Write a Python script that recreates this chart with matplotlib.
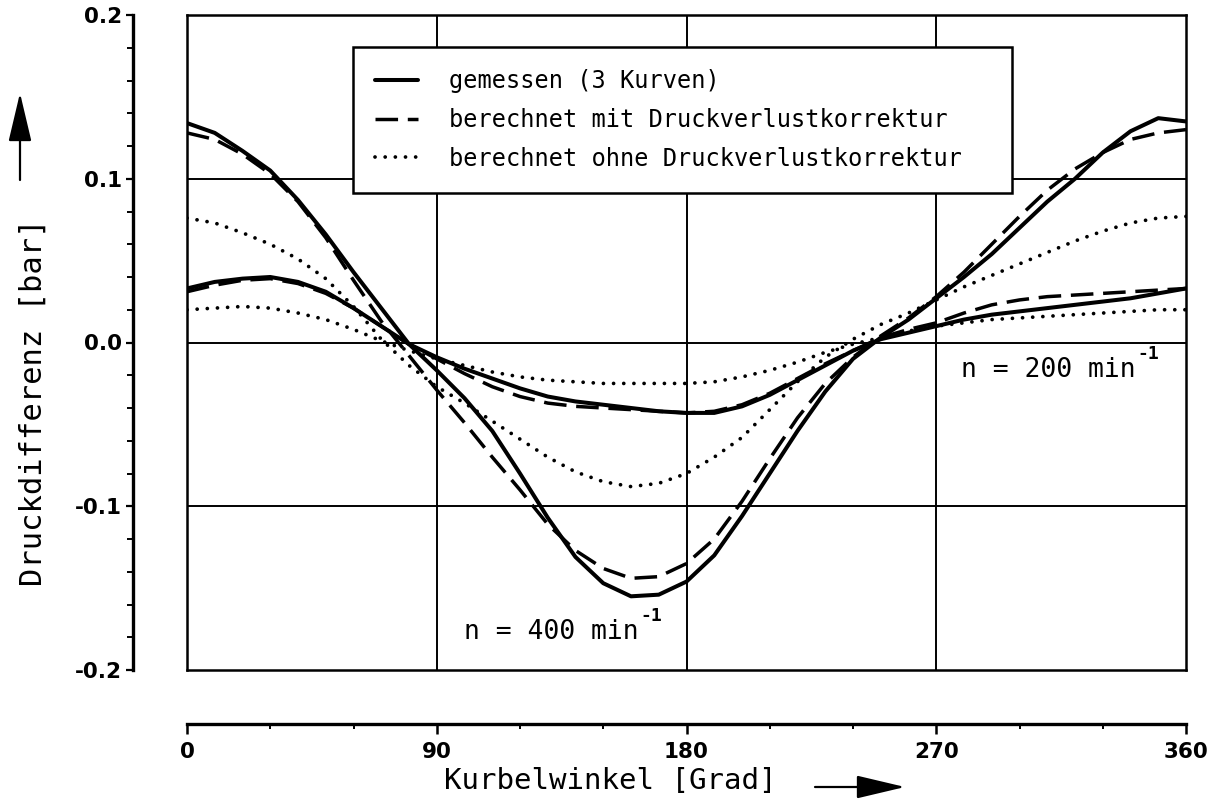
import matplotlib
matplotlib.use('Agg')
import matplotlib.pyplot as plt
from matplotlib.lines import Line2D
from matplotlib.patches import FancyArrowPatch
from matplotlib.ticker import MultipleLocator

# Kurbelwinkel in Grad
winkel = list(range(0, 361, 10))

# n = 400 1/min
p400_gemessen = [0.134, 0.128, 0.117, 0.105, 0.087, 0.066, 0.043, 0.021, -0.001, -0.017,
                 -0.034, -0.054, -0.080, -0.107, -0.131, -0.147, -0.155, -0.154, -0.146, -0.130,
                 -0.106, -0.080, -0.054, -0.030, -0.010, 0.003, 0.014, 0.027, 0.040, 0.054,
                 0.070, 0.086, 0.100, 0.116, 0.129, 0.137, 0.135]
p400_mit = [0.128, 0.124, 0.115, 0.103, 0.086, 0.064, 0.038, 0.013, -0.008, -0.029,
            -0.049, -0.070, -0.090, -0.111, -0.127, -0.138, -0.144, -0.143, -0.135, -0.120,
            -0.097, -0.071, -0.046, -0.025, -0.009, 0.004, 0.015, 0.028, 0.043, 0.060,
            0.077, 0.093, 0.106, 0.116, 0.124, 0.128, 0.130]
p400_ohne = [0.076, 0.073, 0.067, 0.060, 0.051, 0.039, 0.022, 0.002, -0.014, -0.027,
             -0.037, -0.048, -0.059, -0.070, -0.079, -0.085, -0.088, -0.086, -0.080, -0.070,
             -0.058, -0.041, -0.024, -0.009, 0.002, 0.011, 0.018, 0.026, 0.034, 0.041,
             0.048, 0.055, 0.062, 0.068, 0.073, 0.076, 0.077]

# n = 200 1/min
p200_gemessen = [0.033, 0.037, 0.039, 0.040, 0.037, 0.031, 0.021, 0.010, -0.001, -0.009,
                 -0.016, -0.022, -0.028, -0.033, -0.036, -0.038, -0.040, -0.042, -0.043, -0.043,
                 -0.039, -0.032, -0.023, -0.014, -0.005, 0.002, 0.006, 0.010, 0.014, 0.017,
                 0.019, 0.021, 0.023, 0.025, 0.027, 0.030, 0.033]
p200_mit = [0.031, 0.035, 0.038, 0.039, 0.036, 0.030, 0.021, 0.010, -0.001, -0.010,
            -0.019, -0.027, -0.033, -0.037, -0.039, -0.040, -0.041, -0.042, -0.043, -0.042,
            -0.038, -0.031, -0.022, -0.013, -0.005, 0.003, 0.008, 0.012, 0.018, 0.023,
            0.026, 0.028, 0.029, 0.030, 0.031, 0.032, 0.033]
p200_ohne = [0.020, 0.021, 0.022, 0.021, 0.018, 0.014, 0.008, 0.001, -0.005, -0.010,
             -0.014, -0.018, -0.021, -0.023, -0.024, -0.025, -0.025, -0.025, -0.025, -0.024,
             -0.021, -0.017, -0.012, -0.006, -0.001, 0.003, 0.007, 0.010, 0.012, 0.014,
             0.015, 0.016, 0.017, 0.018, 0.019, 0.020, 0.020]

legend_labels = ['gemessen (3 Kurven)',
                 'berechnet mit Druckverlustkorrektur',
                 'berechnet ohne Druckverlustkorrektur']

W, H = 1221, 807
mono = 'DejaVu Sans Mono'
tickfont = {'family': 'DejaVu Sans', 'weight': 'bold', 'size': 15.5}

solid = dict(color='black', lw=2.9, ls='-', solid_capstyle='round', solid_joinstyle='round')
dashed = dict(color='black', lw=2.5, ls=(0, (6.5, 2.8)), dash_capstyle='butt')
dotted = dict(color='black', lw=2.7, ls=(0, (0.01, 2.7)), dash_capstyle='round')

fig = plt.figure(figsize=(W / 100, H / 100), dpi=100)

x0, x1 = 187 / W, 1186 / W
y0, y1 = 1 - 670 / H, 1 - 15 / H

# plot area with the frame and grid
ax = fig.add_axes([x0, y0, x1 - x0, y1 - y0])
ax.set_xlim(0, 360)
ax.set_ylim(-0.2, 0.2)
ax.set_xticks([])
ax.set_yticks([])
for s in ax.spines.values():
    s.set_linewidth(1.8)
for g in (90, 180, 270):
    ax.axvline(g, color='black', lw=1.4, zorder=1)
for g in (-0.1, 0.0, 0.1):
    ax.axhline(g, color='black', lw=1.4, zorder=1)

ax.plot(winkel, p400_gemessen, **solid, zorder=3)
ax.plot(winkel, p400_mit, **dashed, zorder=3)
ax.plot(winkel, p400_ohne, **dotted, zorder=3)
ax.plot(winkel, p200_gemessen, **solid, zorder=3)
ax.plot(winkel, p200_mit, **dashed, zorder=3)
ax.plot(winkel, p200_ohne, **dotted, zorder=3)

handles = [Line2D([], [], **solid), Line2D([], [], **dashed), Line2D([], [], **dotted)]
leg = ax.legend(handles, legend_labels, loc='upper left',
                bbox_to_anchor=(353 / W, 1 - 47 / H, (1012 - 353) / W, 0),
                bbox_transform=fig.transFigure, mode='expand',
                prop={'family': mono, 'size': 17}, frameon=True, fancybox=False,
                edgecolor='black', framealpha=1, borderpad=0.95, borderaxespad=0,
                handlelength=1.8, handletextpad=1.3, labelspacing=0.62)
leg.get_frame().set_linewidth(1.8)
leg.set_zorder(5)

# speed labels with superscript exponent
for xt, yt, txt in ((279, -0.0170, 'n = 200 min'), (100, -0.1770, 'n = 400 min')):
    t = ax.text(xt, yt, txt, family=mono, fontsize=19, va='center', ha='left')
    ax.annotate('-1', xy=(1, 1), xycoords=t, xytext=(1, -4), textcoords='offset points',
                family=mono, fontsize=13, fontweight='bold', va='bottom', ha='left')

# detached y axis
ay = fig.add_axes([133 / W, y0, 0.0001, y1 - y0])
ay.set_ylim(-0.2, 0.2)
ay.patch.set_visible(False)
for k in ('top', 'right', 'bottom'):
    ay.spines[k].set_visible(False)
ay.spines['left'].set_linewidth(2.4)
ay.set_xticks([])
ay.yaxis.set_minor_locator(MultipleLocator(0.02))
ay.tick_params(axis='y', which='major', direction='out', length=5, width=1.6, pad=3)
ay.tick_params(axis='y', which='minor', direction='out', length=4, width=1.4)
ay.set_yticks([-0.2, -0.1, 0.0, 0.1, 0.2])
ay.set_yticklabels(['-0.2', '-0.1', '0.0', '0.1', '0.2'], fontdict=tickfont)

# detached x axis
axx = fig.add_axes([x0, 1 - 724 / H, x1 - x0, 0.0001])
axx.set_xlim(0, 360)
axx.patch.set_visible(False)
for k in ('top', 'right', 'left'):
    axx.spines[k].set_visible(False)
axx.spines['bottom'].set_linewidth(2.4)
axx.set_yticks([])
axx.xaxis.set_minor_locator(MultipleLocator(30))
axx.tick_params(axis='x', which='major', direction='out', length=7, width=1.8, pad=6)
axx.tick_params(axis='x', which='minor', direction='out', length=3.5, width=1.4)
axx.set_xticks([0, 90, 180, 270, 360])
axx.set_xticklabels(['0', '90', '180', '270', '360'], fontdict=tickfont)

# axis titles with arrows
fig.text(610 / W, 1 - 781 / H, 'Kurbelwinkel [Grad]', family=mono, fontsize=21,
         ha='center', va='center')
fig.text(33 / W, 1 - 402 / H, 'Druckdifferenz [bar]', family=mono, fontsize=22,
         ha='center', va='center', rotation=90)

arrow = dict(arrowstyle='-|>,head_length=1.9,head_width=0.45', color='black', lw=1.6,
             shrinkA=0, shrinkB=0, mutation_scale=16, transform=fig.transFigure)
fig.add_artist(FancyArrowPatch((815 / W, 1 - 787 / H), (905 / W, 1 - 787 / H), **arrow))
fig.add_artist(FancyArrowPatch((20 / W, 1 - 180 / H), (20 / W, 1 - 93 / H), **arrow))

fig.savefig('out.png', dpi=100, facecolor='white')
